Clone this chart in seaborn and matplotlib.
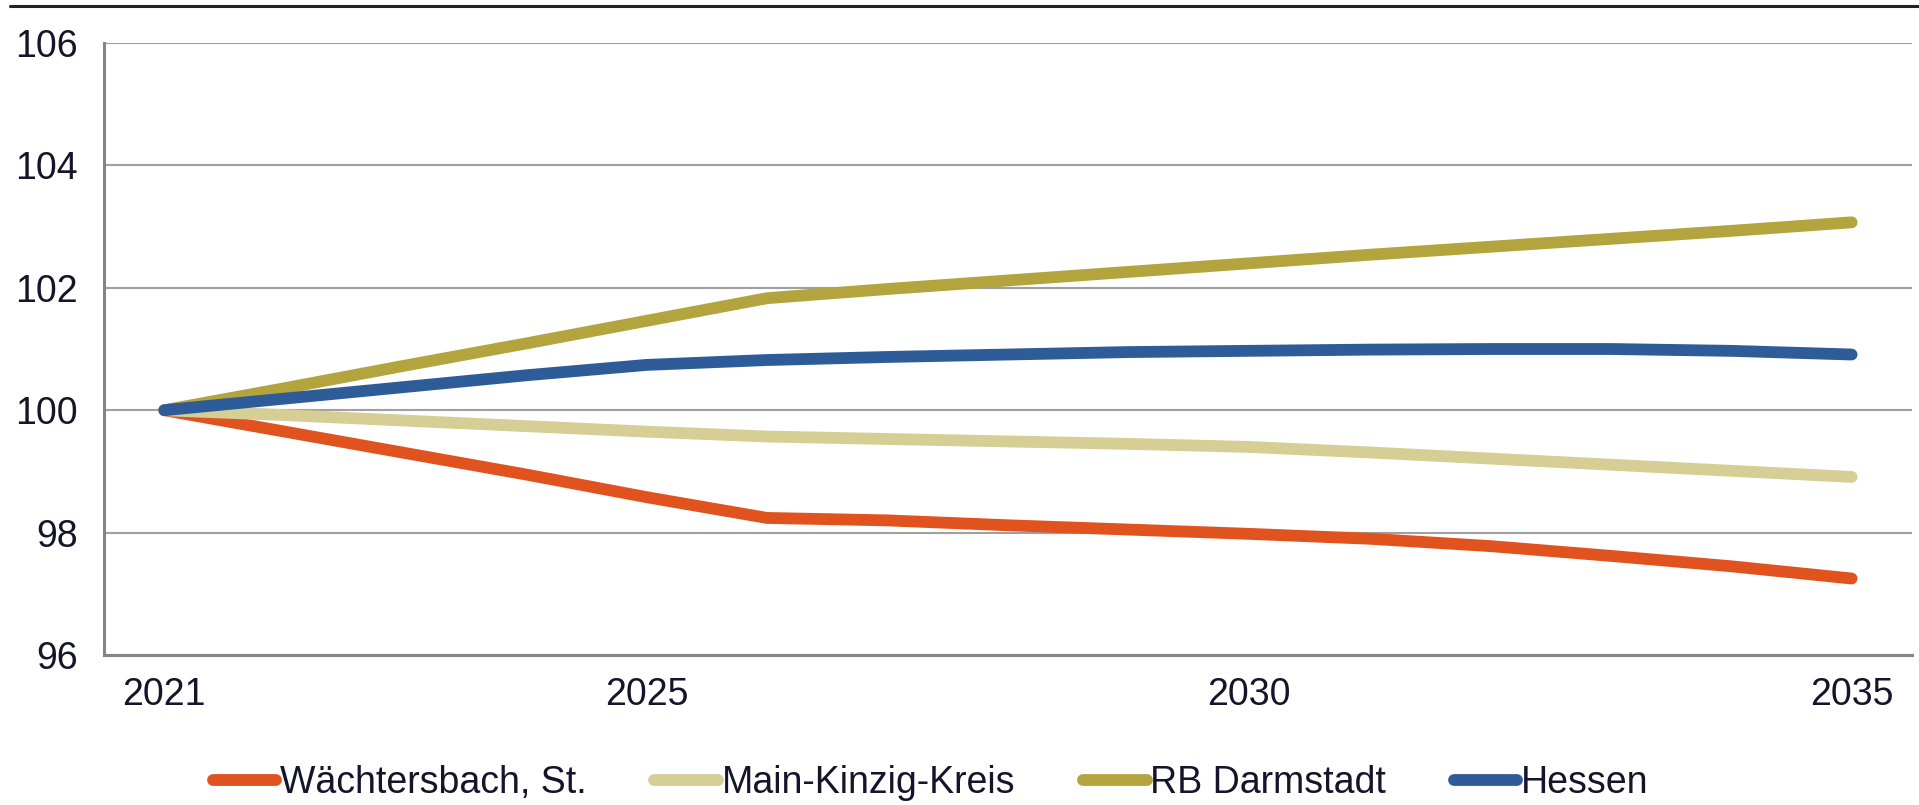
import numpy as np
import pandas as pd
import matplotlib
matplotlib.use("Agg")
import matplotlib.pyplot as plt
from matplotlib.lines import Line2D
import seaborn as sns

# --- data (index, 2021 = 100) ---
years = list(range(2021, 2036))
year_labels = ["2021", "2025", "2030", "2035"]

waechtersbach = [100.0, 99.65, 99.30, 98.95, 98.58, 98.24, 98.20, 98.12, 98.05,
                 97.98, 97.90, 97.78, 97.62, 97.45, 97.25]
main_kinzig = [100.0, 99.92, 99.83, 99.74, 99.65, 99.57, 99.53, 99.49, 99.45,
               99.40, 99.31, 99.21, 99.11, 99.01, 98.91]
rb_darmstadt = [100.0, 100.36, 100.73, 101.09, 101.46, 101.83, 101.98, 102.12, 102.26,
                102.40, 102.54, 102.67, 102.80, 102.93, 103.07]
hessen = [100.0, 100.19, 100.38, 100.57, 100.74, 100.82, 100.87, 100.91, 100.95,
          100.97, 100.99, 101.00, 101.00, 100.97, 100.91]

series_names = ["Wächtersbach, St.", "Main-Kinzig-Kreis", "RB Darmstadt", "Hessen"]
colors = ["#E0531F", "#D5CE95", "#B3A43E", "#2E5C98"]

frames = []
for name, vals in zip(series_names, [waechtersbach, main_kinzig, rb_darmstadt, hessen]):
    frames.append(pd.DataFrame({"pos": np.arange(len(years)), "year": years,
                                "value": vals, "series": name}))
df = pd.concat(frames, ignore_index=True)

sns.set_style("white")
plt.rcParams["font.family"] = ["Liberation Sans Narrow", "Liberation Sans", "DejaVu Sans"]
text_color = "#14142a"
font_size = 27

fig = plt.figure(figsize=(19.19, 8.05), dpi=100)
ax = fig.add_axes([0.0542, 0.1863, 0.9421, 0.7603])

sns.lineplot(data=df, x="pos", y="value", hue="series", hue_order=series_names,
             palette=colors, linewidth=8.5, ax=ax, legend=False,
             solid_capstyle="round", solid_joinstyle="round")

# axes
ax.set_ylim(96, 106)
ax.set_yticks(np.arange(96, 107, 2))
ax.set_yticklabels([str(v) for v in range(96, 107, 2)])
ax.set_xlim(-0.5, len(years) - 0.5)
ax.set_xticks(np.arange(-0.5, len(years), 1.0))
ax.set_xticklabels([])
label_pos = [years.index(int(y)) for y in year_labels]
ax.set_xticks(label_pos, minor=True)
ax.set_xticklabels(year_labels, minor=True)
ax.set_xlabel("")
ax.set_ylabel("")

ax.yaxis.grid(True, color="#A0A0A0", linewidth=1.5)
ax.xaxis.grid(False)
ax.set_axisbelow(True)
for side in ["top", "right"]:
    ax.spines[side].set_visible(False)
for side in ["left", "bottom"]:
    ax.spines[side].set_color("#858585")
    ax.spines[side].set_linewidth(2.2)

ax.tick_params(axis="y", which="major", length=7, width=2, color="#858585",
               pad=12, labelsize=font_size, labelcolor=text_color)
ax.tick_params(axis="x", which="major", length=7, width=2, color="#858585",
               direction="out")
ax.tick_params(axis="x", which="minor", length=0, pad=16, labelsize=font_size,
               labelcolor=text_color)

# legend below the plot
handles = [Line2D([0], [0], color=c, linewidth=8.5, solid_capstyle="round")
           for c in colors]
fig.legend(handles, series_names, loc="center", ncol=4,
           bbox_to_anchor=(0.485, 0.027), frameon=False, fontsize=font_size,
           handlelength=1.7, handletextpad=0.1, columnspacing=1.8,
           labelcolor=text_color)

# thin rule across the top of the figure
fig.add_artist(Line2D([0.005, 1.0], [0.993, 0.993], transform=fig.transFigure,
                      color="#222222", linewidth=2.2))

fig.savefig("out.png", dpi=100)
